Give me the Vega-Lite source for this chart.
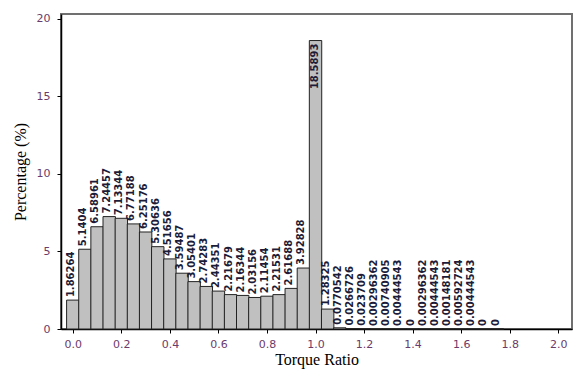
{
  "$schema": "https://vega.github.io/schema/vega-lite/v6.json",
  "width": 511,
  "height": 315,
  "autosize": "none",
  "padding": {"left": 61, "top": 14, "right": 2, "bottom": 41},
  "background": "white",
  "config": {"view": {"stroke": "#707070", "strokeWidth": 2}},
  "data": {"values": [
    {"ratio": 0.0, "pct": 1.86264},
    {"ratio": 0.05, "pct": 5.1404},
    {"ratio": 0.1, "pct": 6.58961},
    {"ratio": 0.15, "pct": 7.24457},
    {"ratio": 0.2, "pct": 7.13344},
    {"ratio": 0.25, "pct": 6.77188},
    {"ratio": 0.3, "pct": 6.25176},
    {"ratio": 0.35, "pct": 5.30636},
    {"ratio": 0.4, "pct": 4.51656},
    {"ratio": 0.45, "pct": 3.59487},
    {"ratio": 0.5, "pct": 3.05401},
    {"ratio": 0.55, "pct": 2.74283},
    {"ratio": 0.6, "pct": 2.44351},
    {"ratio": 0.65, "pct": 2.21679},
    {"ratio": 0.7, "pct": 2.16344},
    {"ratio": 0.75, "pct": 2.03156},
    {"ratio": 0.8, "pct": 2.11454},
    {"ratio": 0.85, "pct": 2.21531},
    {"ratio": 0.9, "pct": 2.61688},
    {"ratio": 0.95, "pct": 3.92828},
    {"ratio": 1.0, "pct": 18.5893},
    {"ratio": 1.05, "pct": 1.28325},
    {"ratio": 1.1, "pct": 0.0770542},
    {"ratio": 1.15, "pct": 0.0266726},
    {"ratio": 1.2, "pct": 0.023709},
    {"ratio": 1.25, "pct": 0.00296362},
    {"ratio": 1.3, "pct": 0.00740905},
    {"ratio": 1.35, "pct": 0.00444543},
    {"ratio": 1.4, "pct": 0},
    {"ratio": 1.45, "pct": 0.00296362},
    {"ratio": 1.5, "pct": 0.00444543},
    {"ratio": 1.55, "pct": 0.00148181},
    {"ratio": 1.6, "pct": 0.00592724},
    {"ratio": 1.65, "pct": 0.00444543},
    {"ratio": 1.7, "pct": 0},
    {"ratio": 1.75, "pct": 0}
  ]},
  "encoding": {
    "x": {
      "field": "ratio", "type": "quantitative",
      "scale": {"domain": [-0.028, 2.036], "nice": false, "zero": false},
      "axis": {
        "values": [0, 0.2, 0.4, 0.6, 0.8, 1.0, 1.2, 1.4, 1.6, 1.8, 2.0],
        "format": ".1f", "grid": false,
        "domainColor": "#000000", "domainWidth": 1.5,
        "tickColor": "#000000", "tickSize": 4,
        "labelColor": "#6b3b6b", "labelFont": "DejaVu Sans", "labelFontSize": 11, "labelPadding": 5,
        "labelFlush": false,
        "title": "Torque Ratio", "titleFont": "Liberation Serif", "titleFontSize": 16,
        "titleFontWeight": "normal", "titleColor": "#000000", "titlePadding": 2
      }
    },
    "y": {
      "field": "pct", "type": "quantitative",
      "scale": {"domain": [0, 20.3], "nice": false},
      "axis": {
        "values": [0, 5, 10, 15, 20], "grid": false,
        "domainColor": "#000000", "domainWidth": 1.5,
        "tickColor": "#000000", "tickSize": 4,
        "labelColor": "#6b3b6b", "labelFont": "DejaVu Sans", "labelFontSize": 11, "labelPadding": 7,
        "labelFlush": false,
        "title": "Percentage (%)", "titleFont": "Liberation Serif", "titleFontSize": 16,
        "titleFontWeight": "normal", "titleColor": "#000000", "titlePadding": 8
      }
    }
  },
  "layer": [
    {
      "mark": {"type": "bar", "width": 12.4, "fill": "#c0c0c0", "stroke": "#222222", "strokeWidth": 1}
    },
    {
      "transform": [{"filter": "datum.pct < 15"}],
      "mark": {"type": "text", "angle": 270, "align": "left", "baseline": "middle", "dx": 3, "dy": -2,
               "font": "DejaVu Sans", "fontWeight": "bold", "fontSize": 10, "fill": "#1c1c38"},
      "encoding": {"text": {"field": "pct", "type": "nominal"}}
    },
    {
      "transform": [{"filter": "datum.pct >= 15"}],
      "mark": {"type": "text", "angle": 270, "align": "right", "baseline": "middle", "dx": -3, "dy": -1,
               "font": "DejaVu Sans", "fontWeight": "bold", "fontSize": 10, "fill": "#1c1c38"},
      "encoding": {"text": {"field": "pct", "type": "nominal"}}
    }
  ]
}
